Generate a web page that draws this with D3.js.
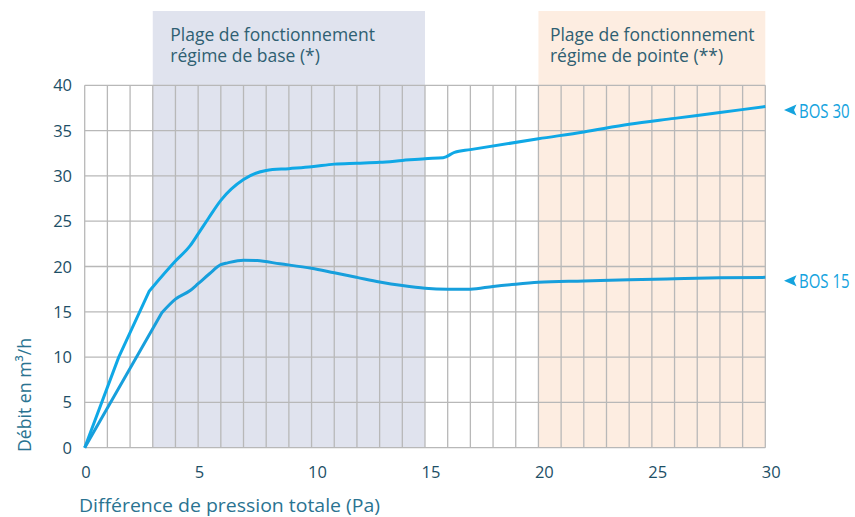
<!DOCTYPE html>
<html>
<head>
<meta charset="utf-8">
<title>Débit BOS</title>
<script src="https://cdn.jsdelivr.net/npm/d3@7/dist/d3.min.js"></script>
<style>
  body { margin: 0; background: #fff; }
  text { font-family: "Open Sans", "Noto Sans", sans-serif; }
  .tick-label { fill: #1d4f66; font-size: 16.5px; }
  .axis-title { fill: #2a7391; font-size: 18.5px; }
  .zone-title { fill: #2f5f72; font-size: 17.5px; }
  .bos { fill: #14a3de; font-size: 15px; }
</style>
</head>
<body>
<svg id="svg" width="855" height="517"></svg>
<script>
// pression totale (Pa) / débit (m3/h)
var bos30X = [0, 1.5, 2.85, 4, 4.65, 5, 5.45, 6, 7, 8, 9, 10, 11, 12, 13, 14, 15, 15.8, 16.3, 17, 20, 22, 24, 26, 28, 30];
var bos30Y = [0, 10, 17.3, 20.6, 22.3, 23.6, 25.3, 27.3, 29.6, 30.6, 30.8, 31.0, 31.3, 31.4, 31.5, 31.7, 31.9, 32.0, 32.6, 32.9, 34.1, 34.85, 35.7, 36.35, 37.0, 37.65];

var bos15X = [0, 3.4, 4, 4.65, 5, 5.5, 6, 6.3, 7, 7.6, 8.6, 10, 11, 12, 13, 14, 15, 16, 17, 18, 19, 20, 22, 24, 26, 28, 30];
var bos15Y = [0, 14.9, 16.4, 17.35, 18.1, 19.2, 20.2, 20.4, 20.7, 20.65, 20.3, 19.8, 19.3, 18.8, 18.3, 17.9, 17.6, 17.5, 17.5, 17.8, 18.05, 18.25, 18.4, 18.55, 18.65, 18.75, 18.8];

// index of the kink where the straight start ends
var kinks = [2, 1];
var seriesNames = ["BOS 30", "BOS 15"];

var xTicks = [0, 5, 10, 15, 20, 25, 30];
var yTicks = [0, 5, 10, 15, 20, 25, 30, 35, 40];

var zoneStart = [3, 20];
var zoneEnd = [15, 30];
var zoneLine1 = ["Plage de fonctionnement", "Plage de fonctionnement"];
var zoneLine2 = ["régime de base (*)", "régime de pointe (**)"];

var xTitle = "Différence de pression totale (Pa)";
var yTitle = "Débit en m³/h";

var svg = d3.select("#svg");
var x = d3.scaleLinear().domain([0, 30]).range([84.7, 765.3]);
var y = d3.scaleLinear().domain([0, 40]).range([447.7, 85.3]);

var zoneColors = ["#e0e3ee", "#fdede1"];
var zonePad = [17.5, 11.5];

// zones
svg.append("g").selectAll("rect").data(zoneStart).enter()
  .append("rect")
  .attr("x", function(d){ return x(d); })
  .attr("y", 11)
  .attr("width", function(d, i){ return x(zoneEnd[i]) - x(d); })
  .attr("height", function(){ return y(0) - 11; })
  .attr("fill", function(d, i){ return zoneColors[i]; });

// grid
var grid = svg.append("g");
grid.selectAll(".v").data(d3.range(0, 31)).enter()
  .append("line")
  .attr("x1", function(d){ return x(d); })
  .attr("x2", function(d){ return x(d); })
  .attr("y1", y(40)).attr("y2", y(0))
  .style("stroke", "#b8b8b8").style("stroke-width", 1.3);
grid.selectAll(".h").data(yTicks).enter()
  .append("line")
  .attr("y1", function(d){ return y(d); })
  .attr("y2", function(d){ return y(d); })
  .attr("x1", x(0)).attr("x2", x(30))
  .style("stroke", "#b8b8b8").style("stroke-width", 1.3);

// tick labels
svg.append("g").selectAll("text").data(yTicks).enter()
  .append("text")
  .attr("class", "tick-label")
  .attr("x", 72)
  .attr("y", function(d){ return y(d) + 6; })
  .attr("text-anchor", "end")
  .text(function(d){ return d; });

svg.append("g").selectAll("text").data(xTicks).enter()
  .append("text")
  .attr("class", "tick-label")
  .attr("x", function(d){ return x(d) - 3.5; })
  .attr("y", 478)
  .text(function(d){ return d; });

// zone titles
var zt = svg.append("g").selectAll("text").data(zoneStart).enter()
  .append("text")
  .attr("class", "zone-title")
  .attr("x", function(d, i){ return x(d) + zonePad[i]; })
  .attr("y", 40.5);
zt.append("tspan").text(function(d, i){ return zoneLine1[i]; });
zt.append("tspan").attr("x", function(d, i){ return x(d) + zonePad[i]; }).attr("dy", 21.7)
  .text(function(d, i){ return zoneLine2[i]; });

// curves : straight start, smooth after the kink
var series = [
  { name: seriesNames[0], kink: kinks[0], pts: bos30X.map(function(v, i){ return [v, bos30Y[i]]; }) },
  { name: seriesNames[1], kink: kinks[1], pts: bos15X.map(function(v, i){ return [v, bos15Y[i]]; }) }
];
var straight = d3.line()
  .x(function(d){ return x(d[0]); })
  .y(function(d){ return y(d[1]); });
var smooth = d3.line()
  .x(function(d){ return x(d[0]); })
  .y(function(d){ return y(d[1]); })
  .curve(d3.curveMonotoneX);

svg.append("g").selectAll("path").data(series).enter()
  .append("path")
  .attr("d", function(d){
    var a = straight(d.pts.slice(0, d.kink + 1));
    var b = smooth(d.pts.slice(d.kink));
    return a + "L" + b.slice(1);
  })
  .attr("fill", "none")
  .attr("stroke", function(d, i){ return i == 0 ? "#0fa8e6" : "#179fdc"; })
  .attr("stroke-width", 3)
  .attr("stroke-linejoin", "round");

// end labels
var lab = svg.append("g").selectAll("g").data(series).enter()
  .append("g")
  .attr("transform", function(d){
    var last = d.pts[d.pts.length - 1];
    return "translate(784," + (y(last[1]) + 3.5) + ")";
  });
lab.append("path")
  .attr("d", "M0,0 L12.5,-5.5 L10,0 L12.5,5.5 Z")
  .attr("fill", "#14a3de");
lab.append("text")
  .attr("class", "bos")
  .attr("transform", "translate(15,7.5) scale(1,1.35)")
  .text(function(d){ return d.name; });

// axis titles
svg.append("text")
  .attr("class", "axis-title")
  .attr("x", 79)
  .attr("y", 512)
  .attr("textLength", 301)
  .attr("lengthAdjust", "spacingAndGlyphs")
  .text(xTitle);

svg.append("text")
  .attr("class", "axis-title")
  .attr("transform", "translate(31,452) rotate(-90)")
  .attr("textLength", 114)
  .attr("lengthAdjust", "spacingAndGlyphs")
  .text(yTitle);
</script>
</body>
</html>
